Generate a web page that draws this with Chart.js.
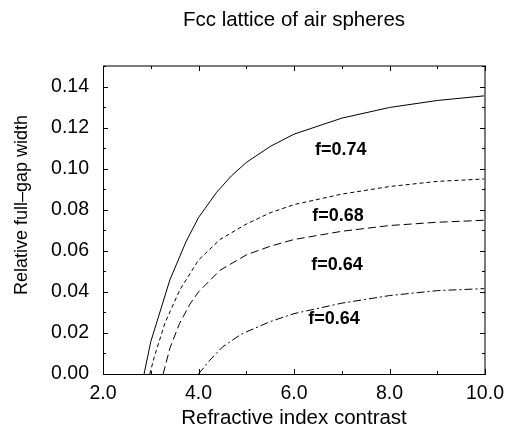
<!DOCTYPE html>
<html>
<head>
<meta charset="utf-8">
<script src="https://cdn.jsdelivr.net/npm/chart.js@4/dist/chart.umd.min.js"></script>
<style>
  html, body { margin: 0; padding: 0; background: #fff; }
  #wrap { width: 507px; height: 431px; }
</style>
</head>
<body>
<div id="wrap"><canvas id="c" width="507" height="431"></canvas></div>
<script>
// ---- Data ----
const chartTitle = 'Fcc lattice of air spheres';
const xAxisTitle = 'Refractive index contrast';
const yAxisTitle = 'Relative full\u2013gap width';

const x074 = [2.86, 3.0, 3.4, 3.74, 4.0, 4.38, 4.69, 5.0, 5.5, 6.0, 7.0, 8.0, 9.0, 10.0];
const y074 = [0, 0.0157, 0.0458, 0.0645, 0.0762, 0.0885, 0.0965, 0.1030, 0.1108, 0.1168, 0.1246, 0.1298, 0.1332, 0.1355];

const x068 = [2.98, 3.07, 3.3, 3.61, 4.0, 4.45, 5.0, 5.5, 6.0, 7.0, 8.0, 9.0, 10.0];
const y068 = [0, 0.008, 0.025, 0.041, 0.0555, 0.0655, 0.0730, 0.0785, 0.0825, 0.0876, 0.0913, 0.0938, 0.095];

const x064a = [3.26, 3.4, 3.6, 3.82, 4.0, 4.45, 5.0, 5.5, 6.0, 7.0, 8.0, 9.0, 10.0];
const y064a = [0, 0.0125, 0.0245, 0.034, 0.040, 0.0505, 0.058, 0.0622, 0.0655, 0.0695, 0.0723, 0.0739, 0.0749];

const x064b = [4.0, 4.24, 4.51, 4.87, 5.0, 5.5, 6.0, 7.0, 8.0, 9.0, 10.0];
const y064b = [0, 0.0068, 0.0133, 0.019, 0.0205, 0.0255, 0.0294, 0.0345, 0.0382, 0.0406, 0.0416];

const curveLabels = ['f=0.74', 'f=0.68', 'f=0.64', 'f=0.64'];
const labelX = [6.98, 6.92, 6.90, 6.84];
const labelY = [0.1092, 0.077, 0.0531, 0.0268];

const xTickValues = [2, 3, 4, 5, 6, 7, 8, 9, 10];

// ---- helpers ----
function pts(xs, ys) { return xs.map((x, i) => ({ x: x, y: ys[i] })); }

const FONT = "'Liberation Sans', Arial, Helvetica, sans-serif";

const frameTicksPlugin = {
  id: 'frameTicks',
  afterLayout(chart) {
    const tb = chart.titleBlock;
    if (tb) { tb.left = chart.chartArea.left; tb.right = chart.chartArea.right; tb.width = tb.right - tb.left; }
  },
  afterDraw(chart) {
    const ctx = chart.ctx;
    const a = chart.chartArea;
    const xs = chart.scales.x, ys = chart.scales.y;
    ctx.save();
    ctx.strokeStyle = '#7a7a7a';
    ctx.lineWidth = 2;
    ctx.beginPath();
    ctx.moveTo(a.left, a.top); ctx.lineTo(a.right, a.top); ctx.lineTo(a.right, a.bottom);
    ctx.stroke();
    ctx.strokeStyle = '#000';
    ctx.lineWidth = 1;
    ctx.beginPath();
    xs.ticks.forEach(t => {
      const px = Math.round(xs.getPixelForValue(t.value)) + 0.5;
      const major = Math.round(t.value) % 2 === 0;
      const len = major ? 5 : 3;
      ctx.moveTo(px, a.bottom); ctx.lineTo(px, a.bottom - len);
      ctx.moveTo(px, a.top); ctx.lineTo(px, a.top + len);
    });
    ys.ticks.forEach(t => {
      const py = Math.round(ys.getPixelForValue(t.value)) + 0.5;
      const major = Math.round(t.value * 100) % 2 === 0;
      const len = major ? 5 : 3;
      ctx.moveTo(a.left, py); ctx.lineTo(a.left + len, py);
      ctx.moveTo(a.right, py); ctx.lineTo(a.right - len, py);
    });
    ctx.stroke();
    ctx.fillStyle = '#000';
    ctx.font = "bold 18px " + FONT;
    ctx.textAlign = 'center';
    ctx.textBaseline = 'middle';
    curveLabels.forEach((s, i) => {
      ctx.fillText(s, xs.getPixelForValue(labelX[i]), ys.getPixelForValue(labelY[i]));
    });
    ctx.font = "18px " + FONT;
    ctx.translate(22, 205);
    ctx.rotate(-Math.PI / 2);
    ctx.fillText(yAxisTitle, 0, 0);
    ctx.restore();
  }
};

const base = { borderColor: '#000', borderWidth: 1, pointRadius: 0, fill: false, tension: 0 };

new Chart(document.getElementById('c'), {
  type: 'line',
  data: {
    datasets: [
      Object.assign({ label: 'f=0.74', data: pts(x074, y074) }, base),
      Object.assign({ label: 'f=0.68', data: pts(x068, y068), borderDash: [4, 3] }, base),
      Object.assign({ label: 'f=0.64', data: pts(x064a, y064a), borderDash: [8, 4] }, base),
      Object.assign({ label: 'f=0.64 ', data: pts(x064b, y064b), borderDash: [8, 3, 2, 3] }, base)
    ]
  },
  options: {
    responsive: false,
    animation: false,
    layout: { padding: { left: 0, right: 22, top: 0, bottom: 0 } },
    plugins: {
      legend: { display: false },
      tooltip: { enabled: false },
      title: {
        display: true,
        text: chartTitle,
        color: '#000',
        font: { family: FONT, size: 20.5, weight: 'normal', lineHeight: 1.2 },
        padding: { top: 8, bottom: 33.4 }
      }
    },
    scales: {
      x: {
        type: 'linear',
        min: 2, max: 10,
        afterBuildTicks(scale) { scale.ticks = xTickValues.map(v => ({ value: v })); },
        afterFit(scale) { scale.height = 57; scale.paddingLeft = 0; scale.paddingRight = 0; },
        grid: { drawOnChartArea: false, drawTicks: false },
        border: { display: true, color: '#000', width: 1 },
        ticks: {
          autoSkip: false, maxRotation: 0, padding: 8, color: '#000',
          font: { family: FONT, size: 19.5 },
          callback: v => (Math.round(v) % 2 === 0 ? v.toFixed(1) : '')
        },
        title: {
          display: true, text: xAxisTitle, color: '#000',
          font: { family: FONT, size: 20.5, lineHeight: 1.2 },
          padding: { top: 0, bottom: 0 }
        }
      },
      y: {
        type: 'linear',
        min: 0, max: 0.15,
        afterFit(scale) { scale.width = 103; scale.paddingTop = 0; scale.paddingBottom = 0; },
        grid: { drawOnChartArea: false, drawTicks: false },
        border: { display: true, color: '#000', width: 1 },
        ticks: {
          stepSize: 0.01, autoSkip: false, padding: 14, color: '#000',
          font: { family: FONT, size: 19.5 },
          callback: v => {
            const k = Math.round(v * 100);
            return (k % 2 === 0 && k <= 14) ? v.toFixed(2) : '';
          }
        },
        title: { display: false }
      }
    }
  },
  plugins: [frameTicksPlugin]
});
</script>
</body>
</html>
